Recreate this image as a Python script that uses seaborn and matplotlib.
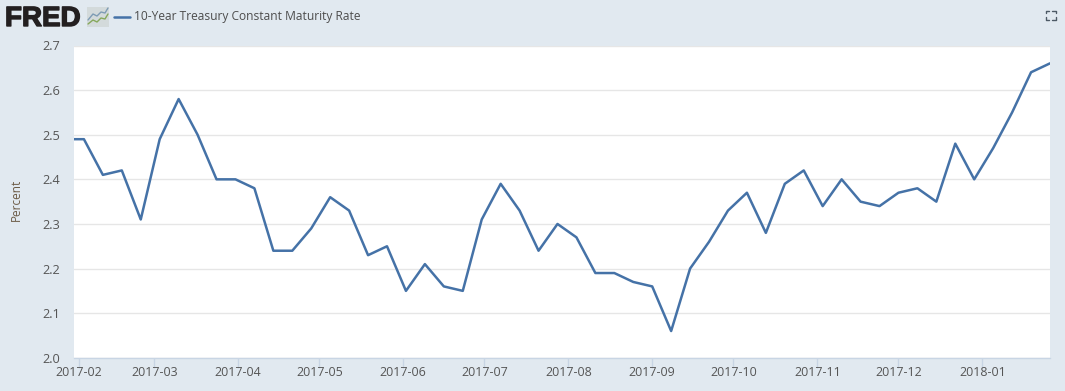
import matplotlib
matplotlib.use("Agg")
import matplotlib.pyplot as plt
import matplotlib.dates as mdates
import matplotlib.patheffects as pe
from matplotlib.lines import Line2D
from matplotlib.patches import Rectangle
from matplotlib.transforms import ScaledTranslation
import pandas as pd
import seaborn as sns

first_week = "2017-01-27"
rate = [2.49, 2.49, 2.41, 2.42, 2.31, 2.49, 2.58, 2.50, 2.40, 2.40, 2.38, 2.24, 2.24,
        2.29, 2.36, 2.33, 2.23, 2.25, 2.15, 2.21, 2.16, 2.15, 2.31, 2.39, 2.33, 2.24,
        2.30, 2.27, 2.19, 2.19, 2.17, 2.16, 2.06, 2.20, 2.26, 2.33, 2.37, 2.28, 2.39,
        2.42, 2.34, 2.40, 2.35, 2.34, 2.37, 2.38, 2.35, 2.48, 2.40, 2.47, 2.55, 2.64, 2.66]
x_ticks = ["2017-02", "2017-03", "2017-04", "2017-05", "2017-06", "2017-07", "2017-08",
           "2017-09", "2017-10", "2017-11", "2017-12", "2018-01"]
y_ticks = [2.0, 2.1, 2.2, 2.3, 2.4, 2.5, 2.6, 2.7]
series_name = "10-Year Treasury Constant Maturity Rate"

BG = "#e1e9f0"
LINE = "#4572a7"
TXT = "#555555"
W, H = 1065, 391

sns.set_theme(style="white")
plt.rcParams["font.family"] = ["Open Sans", "DejaVu Sans"]

df = pd.DataFrame({"date": pd.date_range(first_week, periods=len(rate), freq="7D"), "rate": rate})

fig = plt.figure(figsize=(W / 100, H / 100), dpi=100, facecolor=BG)
ax = fig.add_axes([74 / W, 1 - 357.8 / H, (1050 - 74) / W, (357.8 - 45.5) / H], facecolor="white")
sns.lineplot(data=df, x="date", y="rate", ax=ax, color=LINE, linewidth=1.8, legend=False, zorder=3)

ax.set_xlim(pd.Timestamp("2017-01-30 08:00"), pd.Timestamp("2018-01-26"))
ax.set_ylim(2.0, 2.7)
ax.set_yticks(y_ticks)
ax.set_yticklabels([f"{v:.1f}" for v in y_ticks])
ax.set_xticks([mdates.date2num(pd.Timestamp(t + "-01")) for t in x_ticks])
ax.set_xticklabels(x_ticks)
ax.grid(axis="y", color="#e6e6e6", linewidth=1)
ax.set_axisbelow(True)
for s in ("top", "right", "left"):
    ax.spines[s].set_visible(False)
ax.spines["bottom"].set_color("#c8d5e4")
ax.spines["bottom"].set_linewidth(1)
ax.tick_params(axis="y", length=0, pad=10, labelsize=9.2, labelcolor=TXT)
ax.tick_params(axis="x", length=7, width=1, color="#c8d5e4", pad=-1, labelsize=8.9, labelcolor=TXT, bottom=True)
shift = ScaledTranslation(0, -1.5 / 100, fig.dpi_scale_trans)
for lab in ax.get_yticklabels():
    lab.set_verticalalignment("center")
    lab.set_transform(lab.get_transform() + shift)
ax.set_xlabel("")
ax.set_ylabel("")

fig.text(16 / W, 1 - 200 / H, "Percent", rotation=90, ha="center", va="center",
         fontsize=8.5, color="#6b5a45")

# header: logo, legend entry, expand icon
fig.text(5 / W, 1 - 26 / H, "FRED", fontsize=20, fontweight="bold", color="#231f20",
         family=["Liberation Sans", "DejaVu Sans"], ha="left", va="baseline",
         path_effects=[pe.withStroke(linewidth=1.0, foreground="#231f20")])
fig.add_artist(Rectangle((87 / W, 1 - 27 / H), 22 / W, 20 / H, transform=fig.transFigure,
                         facecolor="#d3dadb", edgecolor="none"))
fig.add_artist(Line2D([88 / W, 93 / W, 97 / W, 101 / W, 105 / W, 108 / W],
                      [1 - 20 / H, 1 - 14 / H, 1 - 16 / H, 1 - 12 / H, 1 - 13 / H, 1 - 8 / H],
                      color="#7e9cb5", linewidth=1))
fig.add_artist(Line2D([88 / W, 93 / W, 97 / W, 101 / W, 105 / W, 108 / W],
                      [1 - 24 / H, 1 - 20 / H, 1 - 22 / H, 1 - 18 / H, 1 - 19 / H, 1 - 14 / H],
                      color="#86a85c", linewidth=1))
fig.add_artist(Line2D([114 / W, 130 / W], [1 - 16.5 / H, 1 - 16.5 / H], color=LINE, linewidth=1.8))
fig.text(134.5 / W, 1 - 16.5 / H, series_name, fontsize=8.68, color="#4d4d4d", ha="left", va="center")

for xs, ys in [((1045.5, 1045.5, 1049), (13, 10.5, 10.5)), ((1052, 1055.5, 1055.5), (10.5, 10.5, 13)),
               ((1045.5, 1045.5, 1049), (17, 19.5, 19.5)), ((1052, 1055.5, 1055.5), (19.5, 19.5, 17))]:
    fig.add_artist(Line2D([v / W for v in xs], [1 - v / H for v in ys], color="#4d5a66", linewidth=1))

fig.savefig("out.png", dpi=100, facecolor=BG)
